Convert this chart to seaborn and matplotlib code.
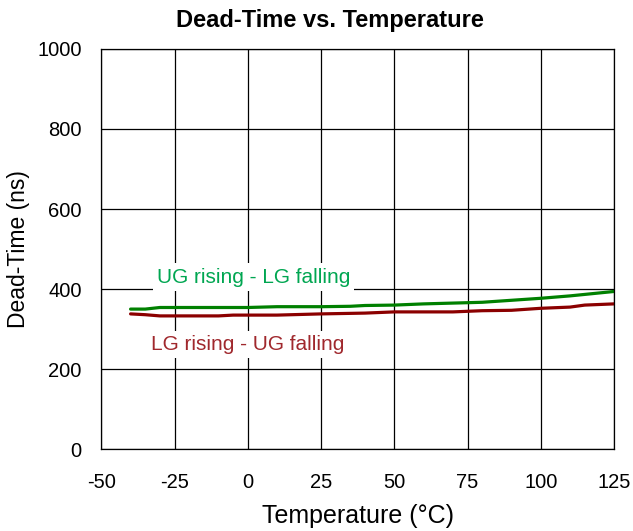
import pandas as pd
import matplotlib.pyplot as plt
import seaborn as sns

# temperature (degC) and dead-time (ns)
temp_ug = [-40, -35, -30, -20, -10, 0, 10, 25, 35, 40, 50, 60, 70, 80, 90, 100, 110, 125]
ug_rising = [350, 350, 354, 354, 354, 354, 356, 356, 357, 359, 360, 363, 365, 367, 372, 377, 383, 394]

temp_lg = [-40, -35, -30, -20, -10, -5, 10, 25, 40, 50, 60, 70, 80, 90, 100, 110, 115, 125]
lg_rising = [338, 336, 333, 333, 333, 335, 335, 338, 340, 343, 343, 343, 346, 347, 352, 355, 360, 363]

series_names = ["UG rising - LG falling", "LG rising - UG falling"]
line_colors = ["#008000", "#8b0000"]
text_colors = ["#00a651", "#a0282d"]

df = pd.concat([
    pd.DataFrame({"temp": temp_ug, "dt": ug_rising, "series": series_names[0]}),
    pd.DataFrame({"temp": temp_lg, "dt": lg_rising, "series": series_names[1]}),
])

sns.set_style("white")
plt.rcParams["font.family"] = ["Liberation Sans", "DejaVu Sans"]
plt.rcParams["axes.unicode_minus"] = False
plt.rcParams["text.color"] = "black"
plt.rcParams["axes.labelcolor"] = "black"
plt.rcParams["xtick.color"] = "black"
plt.rcParams["ytick.color"] = "black"

fig = plt.figure(figsize=(6.33, 5.31), dpi=100)
ax = fig.add_axes([0.160, 0.154, 0.810, 0.754])

sns.lineplot(data=df, x="temp", y="dt", hue="series", palette=line_colors,
             linewidth=2.3, legend=False, ax=ax)

ax.set_xlim(-50, 125)
ax.set_ylim(0, 1000)
ax.set_xticks(range(-50, 126, 25))
ax.set_yticks(range(0, 1001, 200))
ax.grid(True, color="black", linewidth=0.9)
for s in ax.spines.values():
    s.set_color("black")
    s.set_linewidth(0.9)
ax.tick_params(axis="x", length=0, pad=17, labelsize=14.5)
ax.tick_params(axis="y", length=0, pad=14, labelsize=14.5)

ax.set_xlabel("Temperature (°C)", fontsize=18, labelpad=9)
ax.set_ylabel("Dead-Time (ns)", fontsize=16.5, labelpad=5)
fig.text(330 / 633, 1 - 20 / 531, "Dead-Time vs. Temperature", fontsize=17,
         fontweight="bold", ha="center", va="center")

ax.text(2, 430, series_names[0], color=text_colors[0], fontsize=15, ha="center", va="center",
        bbox=dict(facecolor="white", edgecolor="none", pad=3))
ax.text(0, 262, series_names[1], color=text_colors[1], fontsize=15, ha="center", va="center",
        bbox=dict(facecolor="white", edgecolor="none", pad=3))

plt.savefig("out.png", dpi=100)
plt.close()
